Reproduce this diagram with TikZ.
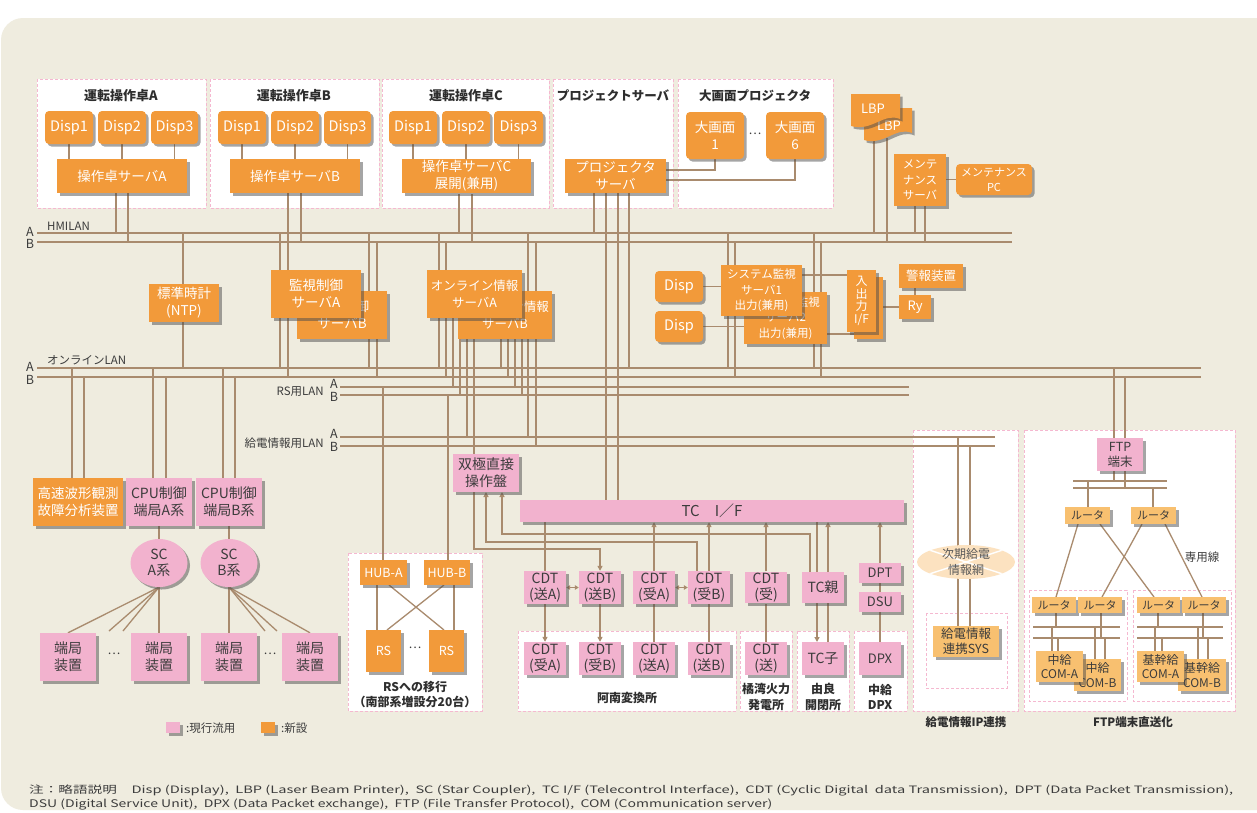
\documentclass[tikz,border=0pt]{standalone}
\usepackage{fontspec}
\setmainfont{Noto Sans CJK JP}
\usetikzlibrary{shapes.geometric,shadows,arrows.meta}
\definecolor{bgC}{HTML}{EFECDF}
\definecolor{orC}{HTML}{F29A3A}
\definecolor{pkC}{HTML}{F2B2CE}
\definecolor{loC}{HTML}{F8C070}
\definecolor{brC}{HTML}{A98B6E}
\definecolor{dpC}{HTML}{F5B8D0}
\definecolor{txC}{HTML}{3C3C3C}
\definecolor{ttC}{HTML}{2E2E2E}
\definecolor{elC}{HTML}{FCE2C0}
\pgfdeclarelayer{panels}\pgfdeclarelayer{wires}\pgfsetlayers{panels,wires,main}
\newcommand\fsz[2]{\fontsize{#1pt}{#2pt}\selectfont}
\newcommand\bx[7]{\node[#2, minimum width={#5-#3}, minimum height={#6-#4}] (#1) at ({(#3+#5)/2},{(#4+#6)/2}) {#7};}
\newcommand\vl[3]{\draw[wire] (#1,#2) -- (#1,#3);}
\tikzset{
 boxbase/.style={inner sep=1pt, align=center, font=\fsz{13.5}{17}},
 shd/.style={drop shadow={shadow xshift=2.5pt,shadow yshift=-2.5pt,opacity=.5,fill=black!70}},
 ob/.style={boxbase,fill=orC,text=white,shd},
 obr/.style={ob,rounded corners=4pt,font=\fsz{14.5}{17}},
 pb/.style={boxbase,fill=pkC,text=txC,shd},
 cdt/.style={pb,font=\fsz{14}{16.5}},
 lb/.style={boxbase,fill=loC,text=txC,shd},
 grp/.style={draw=dpC,fill=white,line width=0.9pt,dash pattern=on 3pt off 2pt},
 wire/.style={draw=brC,line width=1.3pt},
 bus/.style={draw=brC,line width=2.3pt},
 arr/.style={wire,-{Triangle[length=5pt,width=5pt]}},
 darr/.style={wire,{Triangle[length=4pt,width=4.5pt]}-{Triangle[length=4pt,width=4.5pt]}},
 ttl/.style={font=\fsz{13}{15.5}\bfseries,text=ttC,align=center},
 lab/.style={font=\fsz{11.5}{13},text=txC,inner sep=0pt},
}
\begin{document}
\begin{tikzpicture}[x=1pt,y=-1pt]
\useasboundingbox (0,0) rectangle (1257,812);
\begin{pgfonlayer}{panels}
\fill[white] (0,0) rectangle (1257,812);
\fill[bgC, rounded corners=22pt] (1,18) rectangle (1300,810);
\draw[grp] (37,79) rectangle (206,208);
\draw[grp] (210,79) rectangle (379,208);
\draw[grp] (382,79) rectangle (549,208);
\draw[grp] (553,79) rectangle (673,208);
\draw[grp] (678,79) rectangle (833,208);
\draw[grp] (348,553) rectangle (482,711);
\draw[grp] (518,631) rectangle (736,711);
\draw[grp] (740,631) rectangle (792,711);
\draw[grp] (797,631) rectangle (849,711);
\draw[grp] (854,631) rectangle (907,711);
\draw[grp] (913,430) rectangle (1018,711);
\draw[grp] (926,613) rectangle (1007,688);
\draw[grp] (1024,430) rectangle (1235,711);
\draw[grp] (1029,590) rectangle (1127,701);
\draw[grp] (1133,590) rectangle (1231,701);
\end{pgfonlayer}

% ---------- titles ----------
\node[ttl] (tA) at (121,96) {運転操作卓A};
\node[ttl] (tB) at (294,96) {運転操作卓B};
\node[ttl] (tC) at (466,96) {運転操作卓C};
\node[ttl,font=\fsz{12.5}{15}\bfseries] (tP) at (613,96) {プロジェクトサーバ};
\node[ttl,font=\fsz{12.5}{15}\bfseries] (tL) at (755,96) {大画面プロジェクタ};
\node[ttl,font=\fsz{12}{15}\bfseries] (tRS) at (415,694) {RSへの移行\\（南部系増設分20台）};
\node[ttl,font=\fsz{12}{15}\bfseries] (tAn) at (627,698) {阿南変換所};
\node[ttl,font=\fsz{12}{15.5}\bfseries] (tKi) at (766,697) {橘湾火力\\発電所};
\node[ttl,font=\fsz{12}{15.5}\bfseries] (tYu) at (823,697) {由良\\開閉所};
\node[ttl,font=\fsz{12}{15.5}\bfseries] (tCh) at (880,697) {中給\\DPX};
\node[ttl,font=\fsz{11.5}{14}\bfseries] (tIP) at (966,722) {給電情報IP連携};
\node[ttl,font=\fsz{11.5}{14}\bfseries] (tFT) at (1133,722) {FTP端末直送化};

% ---------- bus labels ----------
\node[lab,anchor=west] (lhm) at (47,226) {HMILAN};
\node[lab,font=\fsz{12.5}{13}] (lhA) at (30,232) {A};
\node[lab,font=\fsz{12.5}{13}] (lhB) at (30,244) {B};
\node[lab,anchor=west] (lon) at (47,360) {オンラインLAN};
\node[lab,font=\fsz{12.5}{13}] (loA) at (30,367) {A};
\node[lab,font=\fsz{12.5}{13}] (loB) at (30,380) {B};
\node[lab,anchor=east] (lrs) at (324,392) {RS用LAN};
\node[lab,font=\fsz{12.5}{13}] (lrA) at (334,384) {A};
\node[lab,font=\fsz{12.5}{13}] (lrB) at (334,397) {B};
\node[lab,anchor=east] (lkd) at (324,443) {給電情報用LAN};
\node[lab,font=\fsz{12.5}{13}] (lkA) at (334,434) {A};
\node[lab,font=\fsz{12.5}{13}] (lkB) at (334,447) {B};
\node[lab] (lsen) at (1202,557) {専用線};

% ---------- console A/B/C ----------
\bx{a1}{obr}{45}{111}{93}{144}{Disp1}
\bx{a2}{obr}{98}{111}{146}{144}{Disp2}
\bx{a3}{obr}{151}{111}{198}{144}{Disp3}
\bx{sa}{ob}{57}{159}{187}{193}{操作卓サーバA}
\bx{b1}{obr}{218}{111}{266}{144}{Disp1}
\bx{b2}{obr}{271}{111}{319}{144}{Disp2}
\bx{b3}{obr}{324}{111}{371}{144}{Disp3}
\bx{sb}{ob}{230}{159}{360}{193}{操作卓サーバB}
\bx{c1}{obr}{389}{111}{437}{144}{Disp1}
\bx{c2}{obr}{442}{111}{490}{144}{Disp2}
\bx{c3}{obr}{494}{111}{543}{144}{Disp3}
\bx{sc}{ob}{402}{159}{531}{193}{操作卓サーバC\\展開(兼用)}
\bx{ps}{ob}{565}{159}{666}{193}{プロジェクタ\\サーバ}
\bx{p1}{obr,font=\fsz{13.5}{17}}{686}{112}{744}{159}{大画面\\1}
\bx{p6}{obr,font=\fsz{13.5}{17}}{766}{112}{824}{159}{大画面\\6}
\node[text=txC,font=\fsz{12}{13}] (pdots) at (755,134) {…};

% ---------- LBP / maintenance ----------
\fill[orC,shd] (864,108) -- (912,108) -- (912,133) .. controls (896,126) and (884,146) .. (864,140) -- cycle;
\node[text=white,font=\fsz{13}{14}] (lbp2) at (889,126) {LBP};
\fill[orC,shd] (851,94) -- (900,94) -- (900,119) .. controls (884,112) and (872,132) .. (851,126) -- cycle;
\node[text=white,font=\fsz{13}{14}] (lbp1) at (873,109) {LBP};
\bx{ms}{ob,font=\fsz{11.5}{15.5}}{894}{154}{946}{206}{メンテ\\ナンス\\サーバ}
\bx{mpc}{obr,font=\fsz{11}{15}}{956}{164}{1032}{195}{メンテナンス\\PC}

% ---------- middle servers ----------
\bx{ntp}{ob}{149}{284}{219}{322}{標準時計\\(NTP)}
\bx{mb}{ob}{297}{291}{387}{339}{監視制御\\サーバB}
\bx{ma}{ob}{271}{270}{361}{318}{監視制御\\サーバA}
\bx{ob2}{ob,font=\fsz{12.5}{16.5}}{458}{291}{552}{339}{オンライン情報\\サーバB}
\bx{oa}{ob,font=\fsz{12.5}{16.5}}{427}{270}{522}{318}{オンライン情報\\サーバA}
\bx{sd1}{obr}{655}{271}{703}{302}{Disp}
\bx{sd2}{obr}{655}{311}{703}{342}{Disp}
\bx{ss2}{ob,font=\fsz{11.5}{15.5}}{744}{292}{827}{344}{システム監視\\サーバ2\\出力(兼用)}
\bx{ss1}{ob,font=\fsz{11.5}{15.5}}{721}{265}{802}{316}{システム監視\\サーバ1\\出力(兼用)}
\bx{if2}{ob}{854}{277}{883}{339}{}
\bx{if1}{ob,font=\fsz{12}{12.5}}{847}{270}{876}{332}{入\\出\\力\\I/F}
\bx{alarm}{ob,font=\fsz{12.5}{14}}{899}{264}{963}{288}{警報装置}
\bx{ry}{ob,font=\fsz{13}{14}}{899}{295}{931}{319}{Ry}

% ---------- bottom left ----------
\bx{hs}{ob}{33}{478}{123}{526}{高速波形観測\\故障分析装置}
\bx{cpua}{pb,font=\fsz{14}{17}}{126}{478}{192}{526}{CPU制御\\端局A系}
\bx{cpub}{pb,font=\fsz{14}{17}}{196}{478}{262}{526}{CPU制御\\端局B系}
\node[pb,ellipse,minimum width=57pt,minimum height=48pt,inner sep=0pt,font=\fsz{14}{16.5}] (sca) at (159,563) {SC\\A系};
\node[pb,ellipse,minimum width=57pt,minimum height=48pt,inner sep=0pt,font=\fsz{14}{16.5}] (scb) at (229,563) {SC\\B系};
\bx{t1}{pb,font=\fsz{14}{17}}{40}{633}{96}{681}{端局\\装置}
\bx{t2}{pb,font=\fsz{14}{17}}{131}{633}{187}{681}{端局\\装置}
\bx{t3}{pb,font=\fsz{14}{17}}{201}{633}{257}{681}{端局\\装置}
\bx{t4}{pb,font=\fsz{14}{17}}{282}{633}{338}{681}{端局\\装置}
\node[text=txC,font=\fsz{12}{13}] (dA) at (114,654) {…};
\node[text=txC,font=\fsz{12}{13}] (dB) at (270,654) {…};
\bx{lgp}{pb}{166}{722}{180}{733}{}
\node[lab,anchor=west] (lgpt) at (186,728) {:現行流用};
\bx{lgo}{ob}{261}{722}{275}{733}{}
\node[lab,anchor=west] (lgot) at (281,728) {:新設};

% ---------- RS ----------
\bx{huba}{ob,font=\fsz{12.5}{14}}{360}{560}{407}{585}{HUB-A}
\bx{hubb}{ob,font=\fsz{12.5}{14}}{424}{560}{470}{585}{HUB-B}
\bx{rs1}{ob,font=\fsz{12.5}{14}}{366}{630}{401}{672}{RS}
\bx{rs2}{ob,font=\fsz{12.5}{14}}{429}{630}{464}{672}{RS}
\node[text=txC,font=\fsz{12}{13}] (dR) at (415,648) {…};

% ---------- TC / CDT ----------
\bx{sk}{pb,font=\fsz{14}{17}}{453}{454}{519}{492}{双極直接\\操作盤}
\bx{tcif}{pb,font=\fsz{15}{16}}{520}{500}{904}{522}{TC　I／F}
\bx{cSA}{cdt}{524}{571}{566}{604}{CDT\\(送A)}
\bx{cSB}{cdt}{579}{571}{621}{604}{CDT\\(送B)}
\bx{cRA}{cdt}{633}{571}{675}{604}{CDT\\(受A)}
\bx{cRB}{cdt}{688}{571}{730}{604}{CDT\\(受B)}
\bx{dRA}{cdt}{524}{642}{566}{675}{CDT\\(受A)}
\bx{dRB}{cdt}{579}{642}{621}{675}{CDT\\(受B)}
\bx{dSA}{cdt}{633}{642}{675}{675}{CDT\\(送A)}
\bx{dSB}{cdt}{688}{642}{730}{675}{CDT\\(送B)}
\bx{kR}{cdt}{745}{572}{787}{603}{CDT\\(受)}
\bx{kS}{cdt}{745}{642}{787}{675}{CDT\\(送)}
\bx{tcp}{cdt}{802}{572}{844}{603}{TC親}
\bx{tcc}{cdt}{802}{642}{844}{675}{TC子}
\bx{dpt}{pb,font=\fsz{13}{14}}{859}{563}{901}{583}{DPT}
\bx{dsu}{pb,font=\fsz{13}{14}}{859}{592}{901}{612}{DSU}
\bx{dpx}{pb,font=\fsz{13}{14}}{859}{642}{901}{675}{DPX}

% ---------- IP link ----------
\fill[elC] (966,562) ellipse [x radius=49, y radius=17];
\begin{scope}
\clip (966,562) ellipse [x radius=49, y radius=17];
\draw[white,line width=1.4pt] (917,546) -- (1015,578) (917,578) -- (1015,546);
\end{scope}
\node[text=txC!85,font=\fsz{12}{15.5},align=center] (nw) at (966,562) {次期給電\\情報網};
\bx{sys}{lb,font=\fsz{12.5}{15.5}}{933}{626}{999}{657}{給電情報\\連携SYS}

% ---------- FTP ----------
\bx{ftp}{pb,font=\fsz{12.5}{15}}{1097}{438}{1143}{471}{FTP\\端末}
\bx{r1}{lb,font=\fsz{11}{12}}{1065}{507}{1110}{524}{ルータ}
\bx{r2}{lb,font=\fsz{11}{12}}{1131}{507}{1176}{524}{ルータ}
\bx{r3}{lb,font=\fsz{11}{12}}{1032}{597}{1076}{613}{ルータ}
\bx{r4}{lb,font=\fsz{11}{12}}{1078}{597}{1122}{613}{ルータ}
\bx{r5}{lb,font=\fsz{11}{12}}{1137}{597}{1180}{613}{ルータ}
\bx{r6}{lb,font=\fsz{11}{12}}{1182}{597}{1226}{613}{ルータ}
\bx{cmb}{lb,font=\fsz{12}{14.5}}{1074}{659}{1121}{691}{中給\\COM-B}
\bx{cma}{lb,font=\fsz{12}{14.5}}{1036}{651}{1083}{682}{中給\\COM-A}
\bx{kmb}{lb,font=\fsz{12}{14.5}}{1178}{659}{1226}{691}{基幹給\\COM-B}
\bx{kma}{lb,font=\fsz{12}{14.5}}{1137}{651}{1184}{682}{基幹給\\COM-A}

% ---------- note ----------
\node[anchor=west,inner sep=0pt,text=txC] (note1) at (29,790) {\resizebox{1204pt}{8.6pt}{\fsz{11}{13}注：略語説明　Disp (Display), \ LBP (Laser Beam Printer), \ SC (Star Coupler), \ TC I/F (Telecontrol Interface), \ CDT (Cyclic Digital \ data Transmission), \ DPT (Data Packet Transmission),}};
\node[anchor=west,inner sep=0pt,text=txC] (note2) at (29,804) {\resizebox{743pt}{8.6pt}{\fsz{11}{13}DSU (Digital Service Unit), \ DPX (Data Packet exchange), \ FTP (File Transfer Protocol), \ COM (Communication server)}};

% ================= wires =================
\begin{pgfonlayer}{wires}
\draw[bus] (37,233) -- (1012,233);
\draw[bus] (37,242) -- (1012,242);
\draw[bus] (37,368) -- (1201,368);
\draw[bus] (37,377) -- (1201,377);
\draw[bus] (340,387) -- (909,387);
\draw[bus] (340,395) -- (909,395);
\draw[bus] (340,437) -- (995,437);
\draw[bus] (340,446) -- (995,446);
% consoles
\draw[wire] (a1.south) -- (a1.south |- sa.north);
\draw[wire] (a2.south) -- (a2.south |- sa.north);
\draw[wire] (a3.south) -- (a3.south |- sa.north);
\draw[wire] (b1.south) -- (b1.south |- sb.north);
\draw[wire] (b2.south) -- (b2.south |- sb.north);
\draw[wire] (b3.south) -- (b3.south |- sb.north);
\draw[wire] (c1.south) -- (c1.south |- sc.north);
\draw[wire] (c2.south) -- (c2.south |- sc.north);
\draw[wire] (c3.south) -- (c3.south |- sc.north);
\vl{116}{193}{233} \vl{128}{193}{242}
\vl{288}{193}{377} \vl{301}{193}{242}
\vl{459}{194}{233} \vl{472}{194}{242}
% projector
\vl{594}{193}{233} \vl{606}{193}{500} \vl{618}{193}{500} \vl{629}{193}{368}
\draw[wire] (666,170) -| (p1.south);
\draw[wire] (666,180) -| (p6.south);
% LBP, maintenance
\vl{874}{138}{233} \vl{887}{138}{242}
\vl{915}{206}{233} \vl{925}{206}{242}
\draw[wire] (ms.east |- mpc.west) -- (mpc.west);
% NTP, monitoring
\vl{183}{233}{368}
\vl{280}{233}{368} \vl{369}{233}{368} \vl{377}{242}{377}
% online info
\vl{439}{233}{368} \vl{446}{242}{377} \vl{453}{318}{387} \vl{460}{318}{395} \vl{467}{318}{437} \vl{474}{318}{454}
\vl{501}{339}{368} \vl{508}{339}{377} \vl{515}{339}{387} \vl{522}{339}{395} \vl{528}{233}{437} \vl{536}{242}{446}
% system monitoring
\vl{728}{233}{368} \vl{735}{242}{377} \vl{814}{233}{368} \vl{821}{242}{377}
\draw[wire] (sd1.east) -- (sd1.east -| ss1.west);
\draw[wire] (sd2.east) -- (sd2.east -| ss2.west);
\draw[wire] (802,275) -- (847,275);
\draw[wire] (827,334) -- (854,334);
\draw[wire] (if2.east |- ry.west) -- (ry.west);
\draw[wire] (ry.north) -- (ry.north |- alarm.south);
% bottom left
\vl{72}{368}{478} \vl{84}{377}{478} \vl{153}{368}{478} \vl{166}{377}{478} \vl{223}{368}{478} \vl{235}{377}{478}
\draw[wire] (cpua.south) -- (sca.north);
\draw[wire] (cpub.south) -- (scb.north);
\draw[wire] (sca.south) -- (t1.north);
\draw[wire] (sca.south) -- (109,631);
\draw[wire] (sca.south) -- (123,631);
\draw[wire] (sca.south) -- (t2.north);
\draw[wire] (scb.south) -- (t3.north);
\draw[wire] (scb.south) -- (265,631);
\draw[wire] (scb.south) -- (277,631);
\draw[wire] (scb.south) -- (t4.north);
% RS
\vl{383}{387}{560} \vl{448}{395}{560}
\draw[wire] (377,585) -- (377,630);
\draw[wire] (454,585) -- (454,630);
\draw[wire] (389,585) -- (444,630);
\draw[wire] (444,585) -- (387,630);
% TC / CDT
\draw[arr] (474,492) |- (600,549) -- (cSB.north);
\draw[arr] (810,572) |- (502,534) -- (502,492);
\draw[arr] (697,571) |- (486,542) -- (486,492);
\draw[wire] (cSA.north |- tcif.south) -- (cSA.north);
\draw[arr] (cSA.south) -- (dRA.north);
\draw[arr] (cSB.south) -- (dRB.north);
\draw[wire] (dSA.north) -- (cRA.south);
\draw[arr] (cRA.north) -- (cRA.north |- tcif.south);
\draw[wire] (dSB.north) -- (cRB.south);
\draw[arr] (cRB.north) -- (cRB.north |- tcif.south);
\draw[wire] (kS.north) -- (kR.south);
\draw[arr] (kR.north) -- (kR.north |- tcif.south);
\draw[arr] (817,522) -- (817,642);
\draw[arr] (828,642) -- (828,522);
\draw[wire] (dpx.north) -- (dsu.south);
\draw[wire] (dsu.north) -- (dpt.south);
\draw[arr] (dpt.north) -- (dpt.north |- tcif.south);
\draw[darr] (cSA.east) -- (cSB.west);
\draw[darr] (cRA.east) -- (cRB.west);
% IP link
\vl{958}{437}{626} \vl{970}{446}{626}
% FTP
\vl{1114}{368}{481} \vl{1125}{377}{488}
\draw[bus] (1073,481) -- (1167,481);
\draw[bus] (1073,488) -- (1167,488);
\vl{1088}{481}{507} \vl{1153}{488}{507}
\draw[wire] (1078,524) -- (1056,597);
\draw[wire] (1100,524) -- (1154,597);
\draw[wire] (1142,524) -- (1102,597);
\draw[wire] (1165,524) -- (1202,597);
\draw[bus] (1033,627) -- (1120,627);
\draw[bus] (1033,638) -- (1120,638);
\draw[bus] (1137,627) -- (1223,627);
\draw[bus] (1137,638) -- (1223,638);
\vl{1056}{613}{627} \vl{1101}{613}{638} \vl{1158}{613}{627} \vl{1203}{613}{638}
\vl{1052}{627}{651} \vl{1058}{638}{651} \vl{1095}{627}{659} \vl{1105}{638}{659}
\vl{1155}{627}{651} \vl{1162}{638}{651} \vl{1198}{627}{659} \vl{1208}{638}{659}
\end{pgfonlayer}
\end{tikzpicture}
\end{document}
